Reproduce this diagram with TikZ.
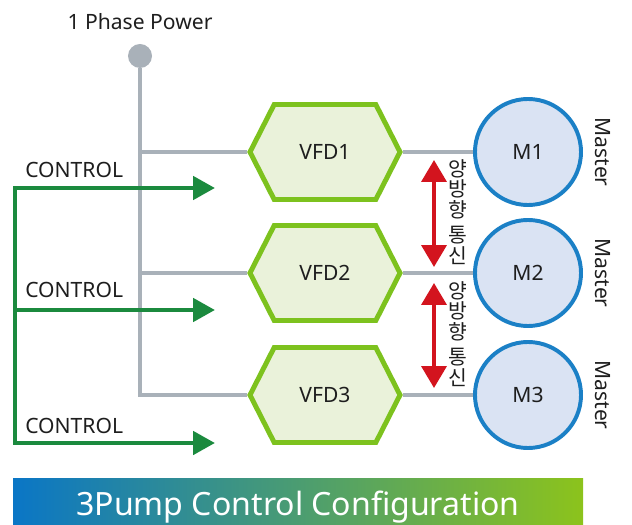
\documentclass[tikz,border=0pt]{standalone}
\usepackage{fontspec}
\setmainfont{Noto Sans}
\newfontfamily\krfont{Noto Sans CJK KR}
\usepackage{xcolor}
\usetikzlibrary{positioning, arrows.meta, shapes.symbols}

\definecolor{feedgray}{HTML}{A9B1B9}
\definecolor{vfdline}{HTML}{7DC21E}
\definecolor{vfdfill}{HTML}{EAF2DA}
\definecolor{motline}{HTML}{1B80C6}
\definecolor{motfill}{HTML}{DAE3F3}
\definecolor{ctrlgreen}{HTML}{1B8A3E}
\definecolor{commred}{HTML}{D3141E}
\definecolor{bannerblue}{HTML}{0A76C6}
\definecolor{bannergreen}{HTML}{8CC31C}
\definecolor{txt}{HTML}{1E1E1E}

\begin{document}
\begin{tikzpicture}[
  x=0.025cm, y=-0.025cm,
  lbl/.style={font=\fontsize{15}{15}\selectfont, text=txt, inner sep=0pt},
  vfd/.style={shape=signal, signal to=west and east, signal pointer angle=126,
              draw=vfdline, fill=vfdfill, line width=3.5pt,
              minimum width=3.75cm, minimum height=2.375cm, inner sep=0pt,
              lbl},
  motor/.style={circle, draw=motline, fill=motfill, line width=2.8pt,
                minimum size=2.65cm, inner sep=0pt, lbl},
  feed/.style={draw=feedgray, line width=3.5pt},
  ctrl/.style={draw=ctrlgreen, line width=3.5pt,
               -{Triangle[length=15.6pt, width=16.3pt]}},
  comm/.style={draw=commred, line width=2.8pt,
               {Triangle[length=15.6pt, width=17.7pt]}-{Triangle[length=15.6pt, width=17.7pt]}},
  tag/.style={lbl, rotate=-90},
  duplex/.style={lbl, align=center, font=\krfont\fontsize{14.5}{14.8}\selectfont}
]
  \useasboundingbox (0,0) rectangle (632,525);

  % power source
  \node[circle, fill=feedgray, minimum size=0.6cm, inner sep=0pt] (src) at (140,56) {};
  \node[lbl, anchor=base] (srclbl) at (140,30) {1 Phase Power};

  % drives and motors
  \node[vfd] (vfd1) at (325,152) {VFD1};
  \node[vfd] (vfd2) at (325,273) {VFD2};
  \node[vfd] (vfd3) at (325,395) {VFD3};
  \node[motor] (m1) at (528,152) {M1};
  \node[motor] (m2) at (528,273) {M2};
  \node[motor] (m3) at (528,395) {M3};
  \node[tag] (tag1) at (603,152) {Master};
  \node[tag] (tag2) at (603,273) {Master};
  \node[tag] (tag3) at (603,395) {Master};

  % power feed
  \draw[feed] (src.south) |- (vfd3.west);
  \draw[feed] (src |- vfd1.west) -- (vfd1.west);
  \draw[feed] (src |- vfd2.west) -- (vfd2.west);
  \draw[feed] (vfd1.east) -- (m1.west);
  \draw[feed] (vfd2.east) -- (m2.west);
  \draw[feed] (vfd3.east) -- (m3.west);

  % control lines
  \coordinate (cbus1) at (15,188);
  \coordinate (cbus2) at (15,310);
  \coordinate (cbus3) at (15,443);
  \coordinate (ctip1) at (215,188);
  \coordinate (ctip2) at (215,310);
  \coordinate (ctip3) at (215,443);
  \draw[ctrl, {Triangle[length=15.6pt, width=16.3pt]}-{Triangle[length=15.6pt, width=16.3pt]}]
    (ctip1) -| (cbus3) -- (ctip3);
  \draw[ctrl] (cbus2) -- (ctip2);
  \node[lbl, anchor=base west] (clbl1) at (25,178) {CONTROL};
  \node[lbl, anchor=base west] (clbl2) at (25,298) {CONTROL};
  \node[lbl, anchor=base west] (clbl3) at (25,433) {CONTROL};

  % communication
  \coordinate (cm1a) at (434,160);
  \coordinate (cm1b) at (434,267);
  \coordinate (cm2a) at (434,283);
  \coordinate (cm2b) at (434,388);
  \draw[comm] (cm1a) -- (cm1b);
  \draw[comm] (cm2a) -- (cm2b);
  \node[duplex] (com1) at (458,212) {양\\방\\향\\[3pt]통\\신};
  \node[duplex] (com2) at (458,334) {양\\방\\향\\[3pt]통\\신};

  % title banner
  \shade[left color=bannerblue, right color=bannergreen] (13,478) rectangle (583,530);
  \node[anchor=base, text=white, inner sep=0pt, font=\fontsize{22.8}{22.8}\selectfont]
    (title) at (298,515) {3Pump Control Configuration};
\end{tikzpicture}
\end{document}
